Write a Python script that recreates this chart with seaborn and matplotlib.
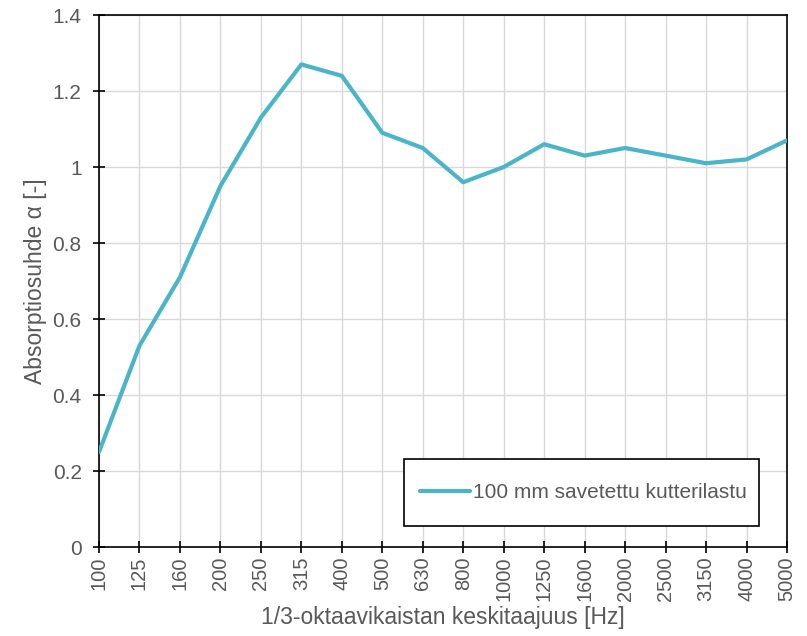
import matplotlib
matplotlib.use("Agg")
import matplotlib.pyplot as plt
from matplotlib.patches import Rectangle
import seaborn as sns
import pandas as pd

# 1/3-octave band centre frequencies and measured absorption
frequencies = ["100", "125", "160", "200", "250", "315", "400", "500", "630", "800",
               "1000", "1250", "1600", "2000", "2500", "3150", "4000", "5000"]
alpha = [0.25, 0.53, 0.71, 0.95, 1.13, 1.27, 1.24, 1.09, 1.05, 0.96,
         1.00, 1.06, 1.03, 1.05, 1.03, 1.01, 1.02, 1.07]
series_label = "100 mm savetettu kutterilastu"
y_ticks = [0, 0.2, 0.4, 0.6, 0.8, 1.0, 1.2, 1.4]
y_tick_labels = ["0", "0.2", "0.4", "0.6", "0.8", "1", "1.2", "1.4"]

sns.set_style("white")
plt.rcParams['font.family'] = ['Liberation Sans', 'DejaVu Sans']
text_color = "#595959"

df = pd.DataFrame({"pos": range(len(frequencies)), "alpha": alpha})

fig = plt.figure(figsize=(8.07, 6.36), dpi=100)
ax = fig.add_axes([0.1227, 0.1399, 0.8525, 0.8365])

sns.lineplot(data=df, x="pos", y="alpha", ax=ax, color="#4BB5C8",
             linewidth=3.0, label=series_label, zorder=3)

ax.set_xlim(0, len(frequencies) - 1)
ax.set_ylim(0, 1.4)
ax.set_xticks(range(len(frequencies)))
ax.set_xticklabels(frequencies, rotation=90)
ax.set_yticks(y_ticks)
ax.set_yticklabels(y_tick_labels)

ax.grid(True, color="#D9D9D9", linewidth=1.0, zorder=0)
ax.set_axisbelow(True)
for sp in ax.spines.values():
    sp.set_color("black")
    sp.set_linewidth(1.2)
    sp.set_visible(True)

ax.tick_params(axis="both", direction="inout", length=9, width=1.2,
               color="black", labelcolor=text_color, labelsize=15,
               left=True, bottom=True)
ax.tick_params(axis="y", pad=8)
ax.tick_params(axis="x", pad=2.5, labelsize=14.5)

ax.set_xlabel("1/3-oktaavikaistan keskitaajuus [Hz]", fontsize=16.5, color=text_color, labelpad=3)
ax.set_ylabel("Absorptiosuhde α [-]", fontsize=16.5, color=text_color, labelpad=4)

# legend box drawn separately so its size matches the original
ax.add_patch(Rectangle((0.443, 0.0395), 0.516, 0.126, transform=ax.transAxes,
                       facecolor="white", edgecolor="black", linewidth=1.2, zorder=4))
leg = ax.legend(loc="center left", bbox_to_anchor=(0.466, 0.1024),
                frameon=False, fontsize=15, handlelength=2.4,
                handletextpad=0.15, borderpad=0, borderaxespad=0)
leg.set_zorder(5)
for t in leg.get_texts():
    t.set_color(text_color)

fig.savefig("out.png", dpi=100)
